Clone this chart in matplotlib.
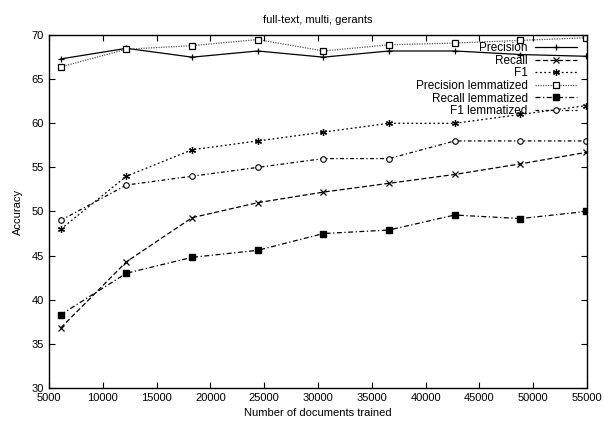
import numpy as np
import matplotlib
matplotlib.use("Agg")
import matplotlib.pyplot as plt

plt.rcParams['font.family'] = ['Liberation Sans', 'DejaVu Sans']

# Data
docs = [6100, 12200, 18300, 24400, 30500, 36600, 42700, 48800, 54900]
precision = [67.3, 68.5, 67.5, 68.2, 67.5, 68.2, 68.2, 67.8, 67.6]
recall = [36.8, 44.3, 49.3, 51.0, 52.2, 53.2, 54.2, 55.4, 56.7]
f1 = [48.0, 54.0, 57.0, 58.0, 59.0, 60.0, 60.0, 61.0, 62.0]
precision_lem = [66.4, 68.4, 68.8, 69.5, 68.2, 68.9, 69.1, 69.4, 69.7]
recall_lem = [38.3, 43.0, 44.8, 45.6, 47.5, 47.9, 49.6, 49.2, 50.0]
f1_lem = [49.0, 53.0, 54.0, 55.0, 56.0, 56.0, 58.0, 58.0, 58.0]

fig = plt.figure(figsize=(6.04, 4.23), dpi=100)
ax = fig.add_axes([0.081, 0.083, 0.891, 0.834])

lw = 0.9
ax.plot(docs, precision, color='black', lw=lw, ls='-', marker='+', ms=5,
        mew=0.9, label='Precision')
ax.plot(docs, recall, color='black', lw=lw, ls=(0, (4, 2)), marker='x', ms=4.5,
        mew=0.9, label='Recall')
ax.plot(docs, f1, color='black', lw=lw, ls=(0, (1.5, 2)), marker=(6, 2, 0),
        ms=5, mew=0.9, label='F1')
ax.plot(docs, precision_lem, color='#555555', lw=lw, ls=(0, (1, 1)),
        marker='s', ms=4, mfc='white', mec='black', mew=0.9,
        label='Precision lemmatized')
ax.plot(docs, recall_lem, color='black', lw=lw, ls=(0, (4, 2, 1, 2)),
        marker='s', ms=4.5, mfc='black', mec='black',
        label='Recall lemmatized')
ax.plot(docs, f1_lem, color='black', lw=lw, ls=(0, (3, 2, 1, 2)),
        marker='o', ms=4, mfc='white', mec='black', mew=0.8,
        label='F1 lemmatized')

ax.set_xlim(5000, 55000)
ax.set_ylim(30, 70)
ax.set_xticks(np.arange(5000, 55001, 5000))
ax.set_yticks(np.arange(30, 71, 5))
ax.tick_params(direction='in', top=True, right=True, labelsize=8,
               length=4, width=0.8)
for s in ax.spines.values():
    s.set_linewidth(1.0)

ax.set_xlabel('Number of documents trained', fontsize=8, labelpad=4)
ax.set_ylabel('Accuracy', fontsize=8, labelpad=6)
ax.set_title('full-text, multi, gerants', fontsize=8, pad=9)

leg = ax.legend(loc='upper right', markerfirst=False, frameon=False,
                fontsize=8.5, handlelength=3.6, labelspacing=0.05,
                borderaxespad=0.2, handletextpad=0.6,
                bbox_to_anchor=(0.995, 1.0))

fig.savefig('out.png', dpi=100)
